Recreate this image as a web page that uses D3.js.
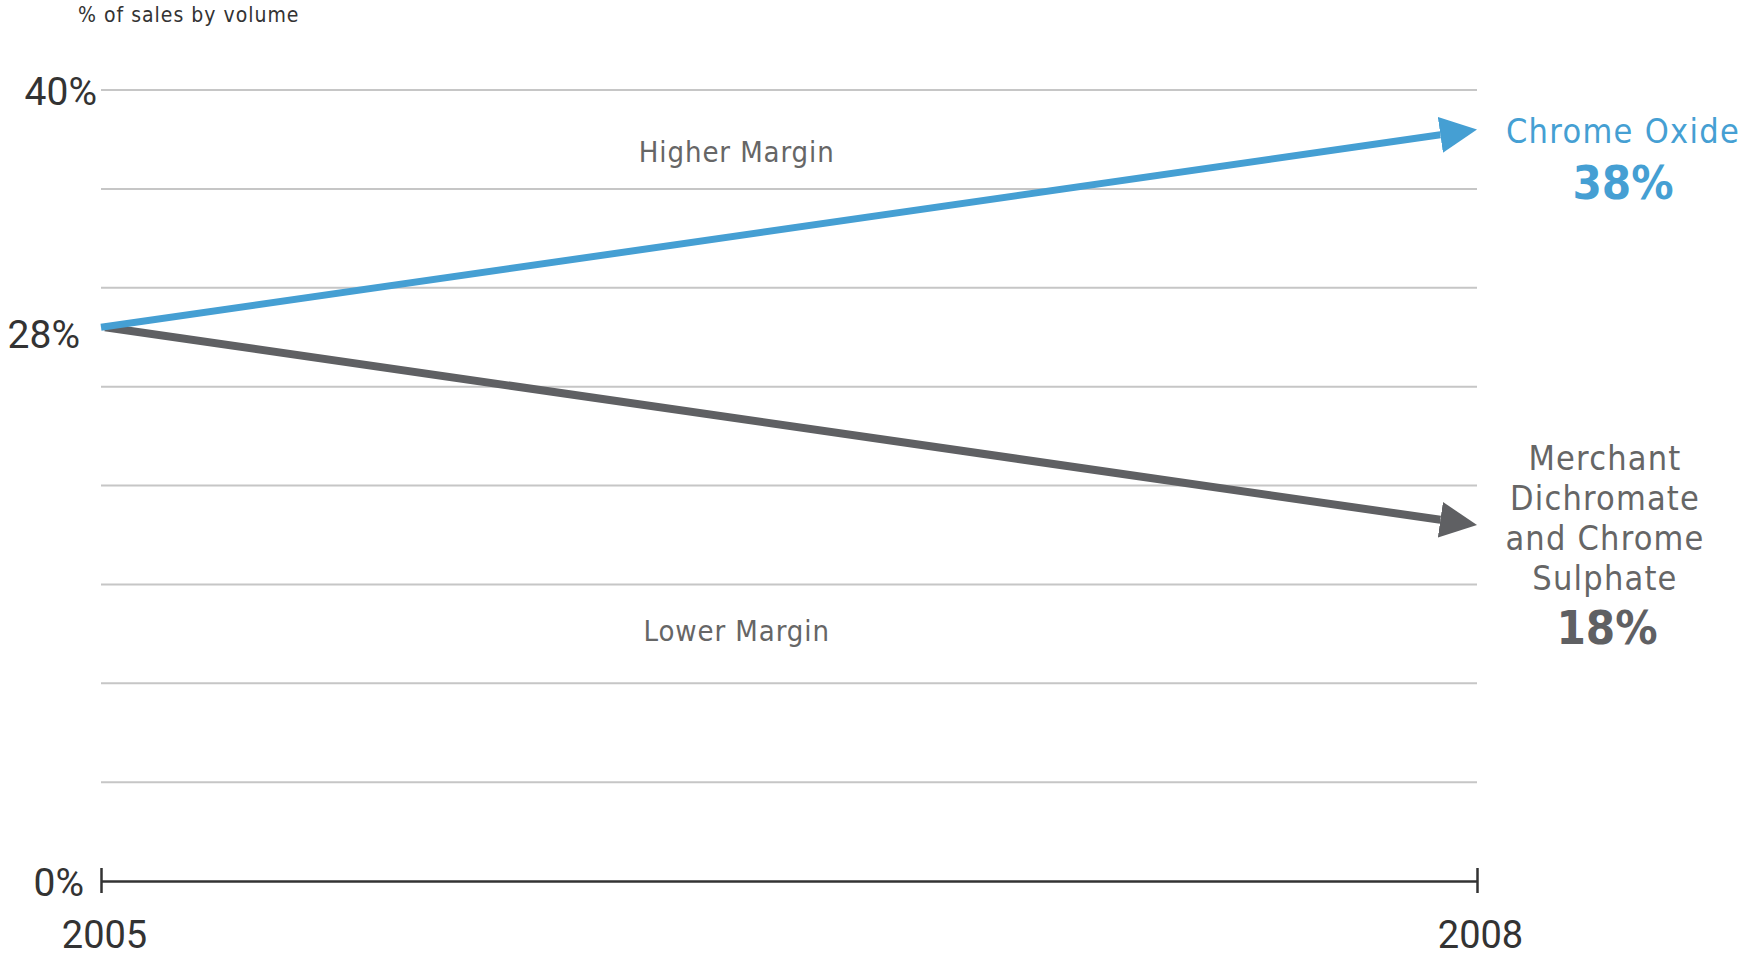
<!DOCTYPE html>
<html>
<head>
<meta charset="utf-8">
<script src="https://cdn.jsdelivr.net/npm/d3@7"></script>
<style>
  body { margin: 0; background: #fff; }
  svg { display: block; }
</style>
</head>
<body>
<svg></svg>
<script>
// chart data
let years = [2005, 2008]
let chromeOxide = [28, 38]
let merchant = [28, 18]
let gridValues = [5, 10, 15, 20, 25, 30, 35, 40]
let yLabelValues = [0, 28, 40]
let merchantLines = ['Merchant', 'Dichromate', 'and Chrome', 'Sulphate']

let width = 1744
let height = 959
let plotLeft = 101
let plotRight = 1477
let plotTop = 90
let plotBottom = 881

let blue = '#459fd3'
let grey = '#5f6063'
let labelFont = '"DejaVu Sans Condensed", "Liberation Sans", sans-serif'
let numFont = 'Roboto, sans-serif'

let svg = d3.select('svg')
    .attr('width', width)
    .attr('height', height)

let xScale = d3.scaleLinear()
    .domain([years[0], years[1]])
    .range([plotLeft, plotRight])

let yScale = d3.scaleLinear()
    .domain([0, 40])
    .range([plotBottom, plotTop])

// grid lines
svg.append('g')
    .selectAll('line')
    .data(gridValues)
    .enter()
    .append('line')
    .attr('x1', plotLeft)
    .attr('x2', plotRight)
    .attr('y1', (d) => yScale(d))
    .attr('y2', (d) => yScale(d))
    .attr('stroke', '#c6c6c6')
    .attr('stroke-width', 2)

// x axis: baseline with end ticks
let xAxis = d3.axisBottom(xScale)
    .tickValues(years)
    .tickSize(0)
    .tickPadding(40)
    .tickFormat(d3.format('d'))

let xg = svg.append('g')
    .attr('transform', 'translate(0,' + plotBottom + ')')
    .call(xAxis)
xg.select('.domain').attr('stroke', '#333').attr('stroke-width', 2.5)
xg.selectAll('.tick')
    .append('line')
    .attr('y1', -13)
    .attr('y2', 12)
    .attr('stroke', '#333')
    .attr('stroke-width', 2.5)
xg.selectAll('.tick text')
    .attr('x', 3)
    .attr('fill', '#333')
    .style('font-family', numFont)
    .style('font-size', '38px')

// y axis labels (the originals are not aligned to one edge)
let yOffsets = { 0: [-17, 0], 28: [-21, 6], 40: [-4, 0] }
let yAxis = d3.axisLeft(yScale)
    .tickValues(yLabelValues)
    .tickSize(0)
    .tickFormat((d) => d + '%')

let yg = svg.append('g')
    .attr('transform', 'translate(' + plotLeft + ',0)')
    .call(yAxis)
yg.select('.domain').remove()
yg.selectAll('.tick text')
    .attr('x', (d) => yOffsets[d][0])
    .attr('y', (d) => yOffsets[d][1])
    .attr('dy', '0.36em')
    .attr('fill', '#333')
    .style('font-family', numFont)
    .style('font-size', '39px')

svg.append('text')
    .attr('x', 78)
    .attr('y', 22)
    .attr('fill', '#333')
    .style('font-family', labelFont)
    .style('font-size', '21px')
    .style('letter-spacing', '1px')
    .text('% of sales by volume')

// margin labels
let midX = plotLeft + (plotRight - plotLeft) * 0.462
svg.append('text')
    .attr('x', midX)
    .attr('y', 162)
    .attr('text-anchor', 'middle')
    .attr('fill', '#666')
    .style('font-family', labelFont)
    .style('font-size', '29px')
    .style('letter-spacing', '0.9px')
    .text('Higher Margin')

svg.append('text')
    .attr('x', midX)
    .attr('y', 641)
    .attr('text-anchor', 'middle')
    .attr('fill', '#666')
    .style('font-family', labelFont)
    .style('font-size', '29px')
    .style('letter-spacing', '0.9px')
    .text('Lower Margin')

// arrows
let headLen = 37
let headHalf = 18
let defs = svg.append('defs')
let addMarker = (id, color) => {
    defs.append('marker')
        .attr('id', id)
        .attr('markerUnits', 'userSpaceOnUse')
        .attr('viewBox', '0 ' + (-headHalf) + ' ' + headLen + ' ' + (headHalf * 2))
        .attr('markerWidth', headLen)
        .attr('markerHeight', headHalf * 2)
        .attr('refX', 0)
        .attr('refY', 0)
        .attr('orient', 'auto')
        .append('path')
        .attr('d', 'M0,' + (-headHalf) + 'L' + headLen + ',0L0,' + headHalf + 'Z')
        .attr('fill', color)
}
addMarker('head-blue', blue)
addMarker('head-grey', grey)

let drawArrow = (values, color, marker, strokeW, startX) => {
    let x0 = xScale(years[0]) + startX
    let y0 = yScale(values[0])
    let x1 = xScale(years[1])
    let y1 = yScale(values[1])
    let len = Math.hypot(x1 - x0, y1 - y0)
    let k = (len - headLen) / len
    svg.append('line')
        .attr('x1', x0)
        .attr('y1', y0)
        .attr('x2', x0 + (x1 - x0) * k)
        .attr('y2', y0 + (y1 - y0) * k)
        .attr('stroke', color)
        .attr('stroke-width', strokeW)
        .attr('marker-end', 'url(#' + marker + ')')
}
drawArrow(merchant, grey, 'head-grey', 8, 4)
drawArrow(chromeOxide, blue, 'head-blue', 7, 0)

// end labels
let endX = xScale(years[1])

svg.append('text')
    .attr('x', endX + 146)
    .attr('y', 143)
    .attr('text-anchor', 'middle')
    .attr('fill', blue)
    .style('font-family', labelFont)
    .style('font-size', '34px')
    .style('letter-spacing', '1.3px')
    .text('Chrome Oxide')

svg.append('text')
    .attr('x', endX + 146)
    .attr('y', 199)
    .attr('text-anchor', 'middle')
    .attr('fill', blue)
    .style('font-family', labelFont)
    .style('font-size', '47px')
    .style('font-weight', 'bold')
    .text(chromeOxide[1] + '%')

svg.append('g')
    .selectAll('text')
    .data(merchantLines)
    .enter()
    .append('text')
    .attr('x', endX + 128)
    .attr('y', (d, i) => 470 + i * 40)
    .attr('text-anchor', 'middle')
    .attr('fill', '#666')
    .style('font-family', labelFont)
    .style('font-size', '34px')
    .style('letter-spacing', '1.2px')
    .text((d) => d)

svg.append('text')
    .attr('x', endX + 130)
    .attr('y', 644)
    .attr('text-anchor', 'middle')
    .attr('fill', grey)
    .style('font-family', labelFont)
    .style('font-size', '47px')
    .style('font-weight', 'bold')
    .text(merchant[1] + '%')
</script>
</body>
</html>
